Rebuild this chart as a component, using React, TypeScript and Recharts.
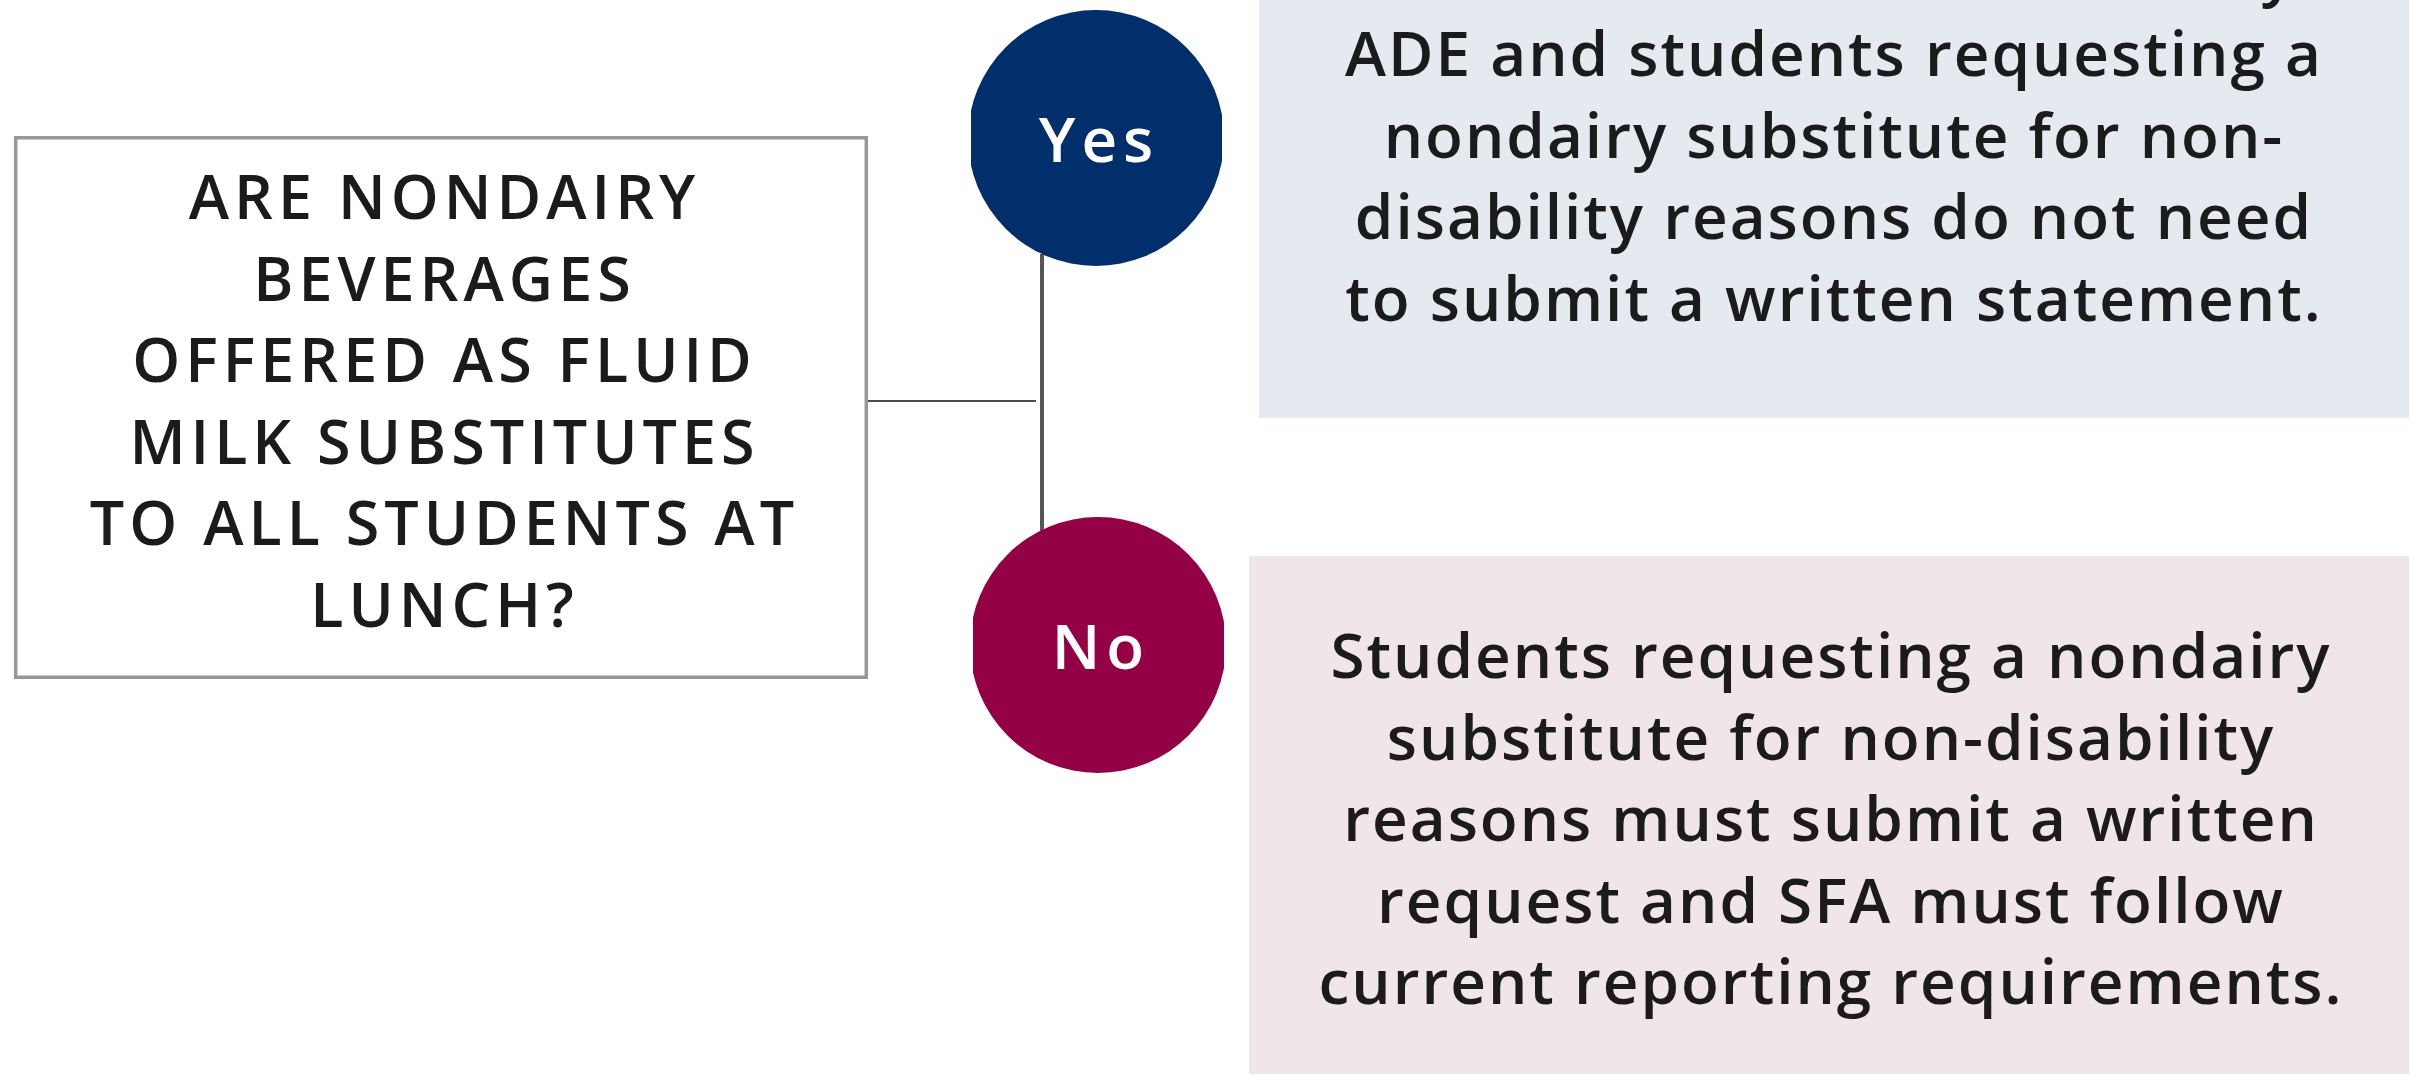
import { ScatterChart, Scatter, XAxis, YAxis, ReferenceArea, ReferenceLine } from "recharts";

const QUESTION_LINES = [
  "ARE NONDAIRY",
  "BEVERAGES",
  "OFFERED AS FLUID",
  "MILK SUBSTITUTES",
  "TO ALL STUDENTS AT",
  "LUNCH?",
];

const YES_LINES = [
  "SFAs must follow rules set by",
  "ADE and students requesting a",
  "nondairy substitute for non-",
  "disability reasons do not need",
  "to submit a written statement.",
];

const NO_LINES = [
  "Students requesting a nondairy",
  "substitute for non-disability",
  "reasons must submit a written",
  "request and SFA must follow",
  "current reporting requirements.",
];

const ANSWERS = ["Yes", "No"];

// layout (pixel units, the axes run 0..W / 0..H)
const W = 2409;
const H = 1074;
const LINE_GAP = 81.6;
const TEXT_COLOR = "#1b1b1b";
const NAVY = "#002f6c";
const WINE = "#930046";

const answerNodes = [
  { x: 1096, y: 138, label: ANSWERS[0], fill: NAVY, clipL: 971, clipR: 1222 },
  { x: 1098, y: 645, label: ANSWERS[1], fill: WINE, clipL: 973, clipR: 1224 },
];

const toPoints = (lines: string[], cx: number, firstBaseline: number) =>
  lines.map((text, i) => ({ x: cx, y: firstBaseline + i * LINE_GAP, text }));

const questionPts = toPoints(QUESTION_LINES, 442, 219);
const yesPts = toPoints(YES_LINES, 1833, 76 - LINE_GAP);
const noPts = toPoints(NO_LINES, 1830, 678);

const makeLabel = (font: string, size: number, weight: number, spacing: number) => (props: any) => {
  const { cx, cy, payload } = props;
  return (
    <text
      x={cx + spacing / 2}
      y={cy}
      textAnchor="middle"
      fontFamily={font}
      fontSize={size}
      fontWeight={weight}
      letterSpacing={spacing}
      fill={TEXT_COLOR}
    >
      {payload.text}
    </text>
  );
};

const AnswerCircle = (props: any) => {
  const { cx, cy, payload } = props;
  const id = `clip-${payload.label}`;
  return (
    <g>
      <defs>
        <clipPath id={id}>
          <rect x={cx - (payload.x - payload.clipL)} y={cy - 140} width={payload.clipR - payload.clipL} height={280} />
        </clipPath>
      </defs>
      <circle cx={cx} cy={cy} r={128} fill={payload.fill} clipPath={`url(#${id})`} />
      <text
        x={cx + 3}
        y={cy + 24}
        textAnchor="middle"
        fontFamily="'Open Sans', sans-serif"
        fontSize={62}
        fontWeight={600}
        letterSpacing={6}
        fill="#ffffff"
      >
        {payload.label}
      </text>
    </g>
  );
};

export default function App() {
  return (
    <div style={{ position: "absolute", left: 0, top: 0, background: "#fff" }}>
      <ScatterChart width={W} height={H} margin={{ top: 0, right: 0, bottom: 0, left: 0 }}>
        <XAxis type="number" dataKey="x" domain={[0, W]} allowDataOverflow hide />
        <YAxis type="number" dataKey="y" domain={[0, H]} allowDataOverflow reversed hide />
        <ReferenceArea x1={1259} x2={W} y1={0} y2={418} fill="#e5e9f0" fillOpacity={1} stroke="none" ifOverflow="visible" />
        <ReferenceArea x1={1249} x2={W} y1={556} y2={H} fill="#f1e5ec" fillOpacity={1} stroke="none" ifOverflow="visible" />
        <ReferenceArea x1={15.7} x2={866.3} y1={137.7} y2={677.3} fill="#ffffff" fillOpacity={1} stroke="#979797" strokeWidth={3.5} ifOverflow="visible" />
        <ReferenceLine segment={[{ x: 868, y: 401 }, { x: 1036, y: 401 }]} stroke="#4d4d4d" strokeWidth={2} ifOverflow="visible" />
        <ReferenceLine segment={[{ x: 1042, y: 254 }, { x: 1042, y: 531 }]} stroke="#555555" strokeWidth={4} ifOverflow="visible" />
        <Scatter data={answerNodes} shape={AnswerCircle} isAnimationActive={false} />
        <Scatter data={questionPts} shape={makeLabel("'Open Sans', sans-serif", 61, 600, 5)} isAnimationActive={false} />
        <Scatter data={yesPts} shape={makeLabel("'Open Sans', sans-serif", 62, 600, 2)} isAnimationActive={false} />
        <Scatter data={noPts} shape={makeLabel("'Open Sans', sans-serif", 62, 600, 2)} isAnimationActive={false} />
      </ScatterChart>
    </div>
  );
}
